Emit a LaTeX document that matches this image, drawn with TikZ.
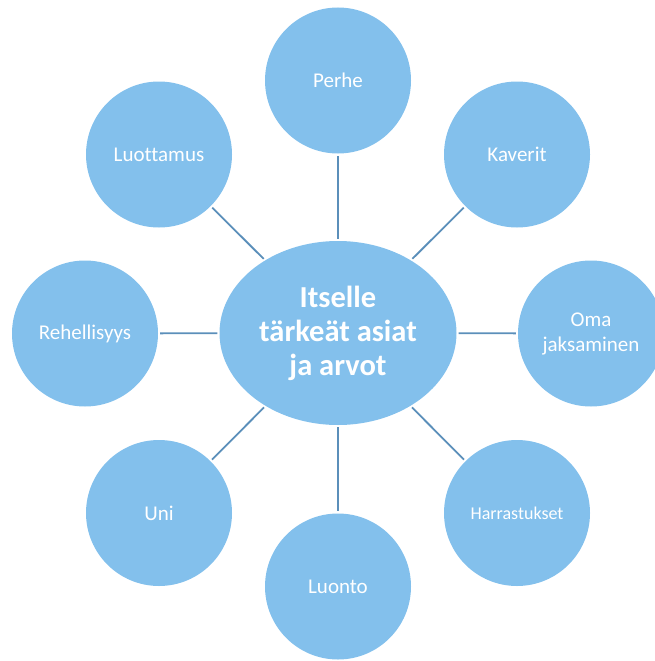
\documentclass[tikz,border=0pt]{standalone}
\usepackage{fontspec}
\setmainfont{Carlito}[Ligatures={NoCommon}]
\usetikzlibrary{shapes.geometric}

\definecolor{bubblefill}{HTML}{83C0EC}
\definecolor{spokeline}{HTML}{5B8FBA}

\begin{document}
\begin{tikzpicture}[x=1pt, y=-1pt,
  bubble/.style={circle, fill=bubblefill, minimum size=146pt, inner sep=0pt,
    align=center, text=white, font=\fontsize{21}{25}\selectfont},
  hub/.style={ellipse, fill=bubblefill, minimum width=237pt, minimum height=184pt,
    inner sep=0pt, align=center, text=white, font=\fontsize{30.5}{34}\selectfont\bfseries},
  spoke/.style={draw=spokeline, line width=1.8pt, shorten <=2pt, shorten >=2pt}]
  \useasboundingbox (0,0) rectangle (655,661);

  \node[hub] (H) at (338,333) {Itselle\\ tärkeät asiat\\ ja arvot};

  \node[bubble] (P) at (338,80.5) {Perhe};
  \node[bubble] (K) at (517,154.5) {Kaverit};
  \node[bubble] (O) at (591,333.5) {Oma\\ jaksaminen};
  \node[bubble, font=\fontsize{18}{21}\selectfont] (R) at (517,513) {Harrastukset};
  \node[bubble] (L) at (338,586.5) {Luonto};
  \node[bubble] (U) at (159,513) {Uni};
  \node[bubble] (E) at (85,333.5) {Rehellisyys};
  \node[bubble] (T) at (159,154.5) {Luottamus};

  \draw[spoke] (H) -- (P);
  \draw[spoke] (H) -- (K);
  \draw[spoke] (H) -- (O);
  \draw[spoke] (H) -- (R);
  \draw[spoke] (H) -- (L);
  \draw[spoke] (H) -- (U);
  \draw[spoke] (H) -- (E);
  \draw[spoke] (H) -- (T);

\end{tikzpicture}
\end{document}
